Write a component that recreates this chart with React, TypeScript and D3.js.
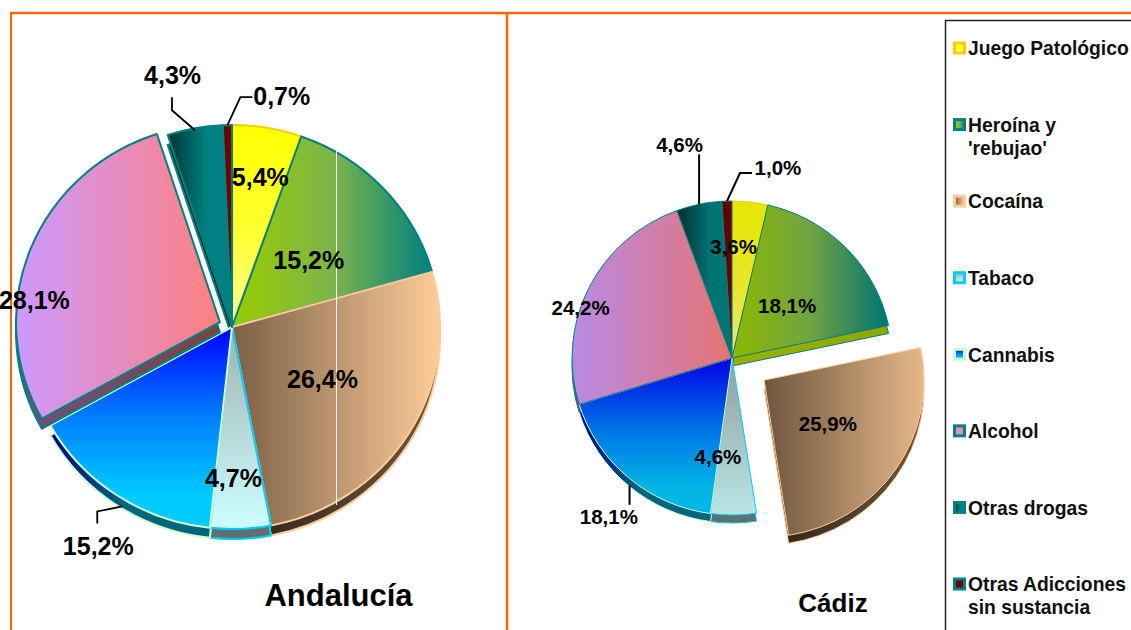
import React from 'react';
import * as d3 from 'd3';

const categories = ['Juego Patológico', "Heroína y\n'rebujao'", 'Cocaína', 'Tabaco', 'Cannabis', 'Alcohol', 'Otras drogas', 'Otras Adicciones\nsin sustancia'];
const andaluciaValues = [5.4, 15.2, 26.4, 4.7, 15.2, 28.1, 4.3, 0.7];
const cadizValues = [3.6, 18.1, 25.9, 4.6, 18.1, 24.2, 4.6, 1.0];

type Stop = [number, string];

// fill gradient of each slice, its direction, then border and side wall
const fills: Stop[][] = [
  [[0, '#ffff00'], [0.55, '#ffff33'], [1, '#ffff99']],
  [[0, '#99cc00'], [0.5, '#7db54a'], [1, '#008080']],
  [[0, '#7a6045'], [1, '#ffcc99']],
  [[0, '#a0b0b0'], [1, '#ccffff']],
  [[0, '#0000ff'], [0.45, '#0080ff'], [0.85, '#00ccff'], [1, '#00ccff']],
  [[0, '#cc99ff'], [1, '#ff8080']],
  [[0, '#003333'], [0.6, '#008080'], [1, '#008080']],
  [[0, '#600000'], [1, '#800000']],
];
const directions = ['v', 'h', 'h', 'v', 'v', 'h', 'h', 'h'];
const borders = ['#ffcc00', '#008080', '#ffcc99', '#00ccff', '#ccffcc', '#008080', '#008080', '#008080'];
const walls: Stop[][] = [
  [[0, '#7f7f00'], [1, '#7f7f00']],
  [[0, '#9ab000'], [1, '#8fa800']],
  [[0, '#2a2015'], [1, '#705840']],
  [[0, '#607070'], [1, '#607070']],
  [[0, '#000080'], [0.4, '#006680'], [1, '#006680']],
  [[0, '#70507f'], [1, '#7f4040']],
  [[0, '#002a2a'], [1, '#002a2a']],
  [[0, '#400000'], [1, '#400000']],
];

// label placement: fraction of the radius along the mid angle, then a nudge
const andaluciaLabels = [[0.75, 2, 0], [0.5, 1, 2], [0.5, 2, -1], [0.75, -5, 0], [1.2, 4, 17], [1, -4, 47], [1.2, -15, -13], [1.15, 55, 1]];
const cadizLabels = [[0.7, -11, -2], [0.5, -2, 3], [0.5, 30, 21], [0.63, -15, 0], [1.2, 1, 15], [1, -8, 19], [1.2, -13, -29], [1.2, 52, -2]];

const charts = [
  {
    id: 'and', title: 'Andalucía', values: andaluciaValues, labels: andaluciaLabels,
    cx: 232, cy: 327, rx: 208, ry: 202, depth: 10, stroke: 2, shade: 1, explodedSize: 0.98,
    exploded: { 5: 13 } as Record<number, number>,
    leaders: { 4: [[5, 11], [-20, 16], [-20, 28]], 6: [[0, 2], [-23, -18], [-23, -31]], 7: [[0, 0], [13, -28], [25, -28]] } as Record<number, number[][]>,
    leaderWidth: 1.8, fontSize: 25, titleX: 338.5, titleY: 606, titleSize: 31,
    seam: { x: 336.5, y1: 150, y2: 505 },
  },
  {
    id: 'cad', title: 'Cádiz', values: cadizValues, labels: cadizLabels,
    cx: 732, cy: 358, rx: 160, ry: 157, depth: 8, stroke: 1, shade: 0.9, explodedSize: 1,
    exploded: { 2: 39 } as Record<number, number>,
    leaders: { 4: [[1, 8], [1, 27]], 6: [[0, 0], [0, -50]], 7: [[0, 0], [13, -28], [25, -28]] } as Record<number, number[][]>,
    leaderWidth: 2, fontSize: 20.5, titleX: 833, titleY: 612, titleSize: 26,
    seam: null,
  },
];

const FONT = '"Liberation Sans", Arial, sans-serif';
const ORANGE = '#ff6600';
const comma = d3.formatLocale({ decimal: ',', thousands: '.', grouping: [3], currency: ['', ''] }).format('.1f');

const shade = (c: string, k: number) => {
  const { r, g, b } = d3.rgb(c);
  return d3.rgb(r * k, g * k, b * k).formatHex();
};

function Gradient({ id, stops, dir, k = 1 }: { id: string; stops: Stop[]; dir: string; k?: number }) {
  return (
    <linearGradient id={id} x1="0" y1="0" x2={dir === 'h' ? 1 : 0} y2={dir === 'v' ? 1 : 0}>
      {stops.map(([o, c]) => <stop key={o} offset={o} stopColor={shade(c, k)} />)}
    </linearGradient>
  );
}

function Pie({ chart }: { chart: (typeof charts)[number] }) {
  const { id, cx, cy, rx, ry, depth, stroke, exploded } = chart;
  const slices = d3.pie<number>().sort(null).value(d => d)(chart.values);
  const arc = d3.arc<d3.PieArcDatum<number>>().innerRadius(0).outerRadius(ry);
  const mid = (s: d3.PieArcDatum<number>) => (s.startAngle + s.endAngle) / 2;
  const polar = (a: number, k: number): [number, number] => [cx + rx * k * Math.sin(a), cy - ry * k * Math.cos(a)];

  const place = (s: d3.PieArcDatum<number>, dy = 0) => {
    const off = exploded[s.index] || 0;
    const size = off ? chart.explodedSize : 1;
    const x = cx + off * Math.sin(mid(s));
    const y = cy - off * Math.cos(mid(s)) + dy;
    return `translate(${x},${y}) scale(${(size * rx) / ry},${size})`;
  };
  const wedge = (s: d3.PieArcDatum<number>, kind: string) => (
    <path
      key={kind + s.index}
      d={arc(s) || ''}
      transform={place(s, kind === 'wall' ? depth : 0)}
      fill={`url(#${id}-${kind}-${s.index})`}
      stroke={borders[s.index]}
      strokeWidth={stroke}
      strokeLinejoin="round"
      vectorEffect="non-scaling-stroke"
    />
  );
  const flat = slices.filter(s => !exploded[s.index]);
  const out = slices.filter(s => exploded[s.index]);

  return (
    <g>
      <defs>
        {slices.map(s => (
          <Gradient key={s.index} id={`${id}-top-${s.index}`} stops={fills[s.index]} dir={directions[s.index]} k={chart.shade} />
        ))}
        {slices.map(s => (
          <Gradient key={s.index} id={`${id}-wall-${s.index}`} stops={walls[s.index]} dir="h" />
        ))}
      </defs>
      {flat.map(s => wedge(s, 'wall'))}
      {flat.map(s => wedge(s, 'top'))}
      {out.map(s => wedge(s, 'wall'))}
      {out.map(s => wedge(s, 'top'))}
      {chart.seam && (
        <line x1={chart.seam.x} x2={chart.seam.x} y1={chart.seam.y1} y2={chart.seam.y2} stroke="#fff" strokeWidth={1} />
      )}
      {slices.map(s => {
        const legs = chart.leaders[s.index];
        if (!legs) return null;
        const [ax, ay] = polar(mid(s), 1);
        return (
          <polyline
            key={s.index}
            points={legs.map(([dx, dy]) => `${ax + dx},${ay + dy}`).join(' ')}
            fill="none"
            stroke="#000"
            strokeWidth={chart.leaderWidth}
          />
        );
      })}
      {slices.map(s => {
        const [k, dx, dy] = chart.labels[s.index];
        const [x, y] = polar(mid(s), k);
        return (
          <text key={s.index} x={x + dx} y={y + dy} dy="0.35em" textAnchor="middle" fontSize={chart.fontSize} fontWeight="bold" fontFamily={FONT} fill="#000">
            {comma(s.value) + '%'}
          </text>
        );
      })}
      <text x={chart.titleX} y={chart.titleY} textAnchor="middle" fontSize={chart.titleSize} fontWeight="bold" fontFamily={FONT} fill="#000">
        {chart.title}
      </text>
    </g>
  );
}

function Legend() {
  const row = d3.scaleLinear().domain([0, categories.length - 1]).range([48.5, 584.5]);
  return (
    <g fontFamily={FONT} fontWeight="bold" fontSize={19.3} fill="#111">
      <defs>
        {categories.map((_, i) => (
          <Gradient key={i} id={`leg-${i}`} stops={fills[i]} dir={directions[i]} />
        ))}
      </defs>
      <path d="M1131,20.5 H945.5 V630" fill="none" stroke="#222" strokeWidth={1.5} />
      {categories.map((c, i) => (
        <g key={c} transform={`translate(0,${row(i)})`}>
          <rect x={954.5} y={-5.5} width={10} height={10} fill={`url(#leg-${i})`} stroke={borders[i]} strokeWidth={3} />
          {c.split('\n').map((line, j) => (
            <text key={j} x={968} y={j * 23} dy="0.35em">{line}</text>
          ))}
        </g>
      ))}
    </g>
  );
}

export default function App() {
  return (
    <svg width={1131} height={630} style={{ position: 'absolute', left: 0, top: 0, background: '#fff' }}>
      <line x1={10} x2={1131} y1={13} y2={13} stroke={ORANGE} strokeWidth={2.5} />
      <line x1={11} x2={11} y1={13} y2={630} stroke={ORANGE} strokeWidth={2} />
      <line x1={507} x2={507} y1={13} y2={630} stroke={ORANGE} strokeWidth={2.5} />
      {charts.map(c => <Pie key={c.id} chart={c} />)}
      <Legend />
    </svg>
  );
}
